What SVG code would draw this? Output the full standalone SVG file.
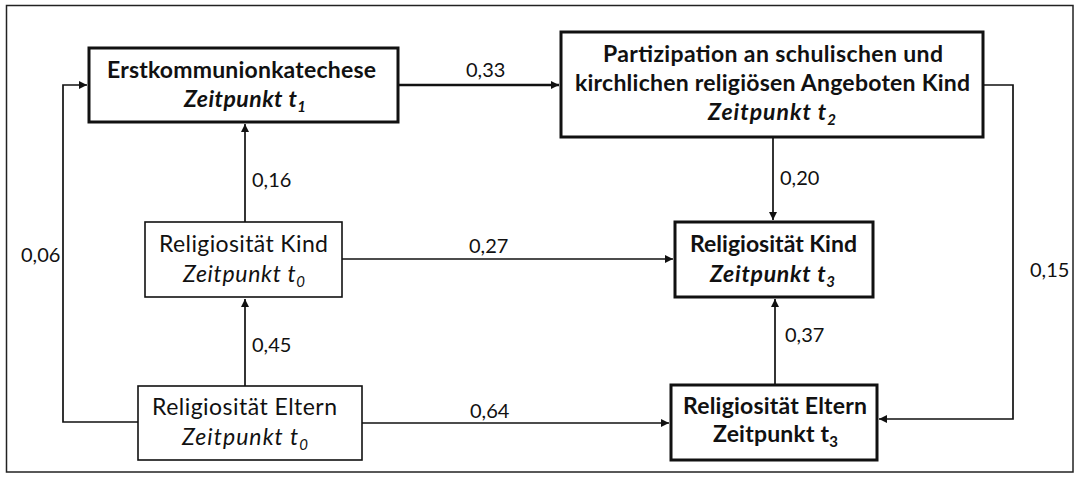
<svg xmlns="http://www.w3.org/2000/svg" width="1080" height="482" viewBox="0 0 1080 482">
<style>
  text { font-family: Lato, "Open Sans", "Liberation Sans", sans-serif; fill: #111; }
  .t { font-size: 23px; text-anchor: middle; }
  .b { font-weight: bold; }
  .i { font-style: italic; }
  .lbl { font-size: 20px; }
  .sub { font-size: 15px; }
  .thick { fill: #fff; stroke: #111; stroke-width: 3; }
  .thin { fill: #fff; stroke: #111; stroke-width: 1.6; }
  .c { fill: none; stroke: #111; stroke-width: 1.7; }
  .c2 { fill: none; stroke: #111; stroke-width: 2.4; }
</style>
<defs>
  <marker id="ah" viewBox="0 0 10 10" refX="10" refY="5" markerWidth="8" markerHeight="8" markerUnits="userSpaceOnUse" orient="auto">
    <path d="M0,0 L10,5 L0,10 z" fill="#111"/>
  </marker>
</defs>
<rect x="0" y="0" width="1080" height="482" fill="#fff"/>
<rect x="6.5" y="5.5" width="1066.5" height="466.5" fill="none" stroke="#222" stroke-width="1.5"/>

<g id="connectors">
  <path class="c2" d="M398,85 H559" marker-end="url(#ah)"/>
  <path class="c" d="M983,85 H1013 V419 H879" marker-end="url(#ah)"/>
  <path class="c" d="M773,137 V220" marker-end="url(#ah)"/>
  <path class="c" d="M342,259 H673" marker-end="url(#ah)"/>
  <path class="c" d="M245,222 V124" marker-end="url(#ah)"/>
  <path class="c" d="M245,386 V299" marker-end="url(#ah)"/>
  <path class="c" d="M362,423 H669" marker-end="url(#ah)"/>
  <path class="c" d="M775,385 V299" marker-end="url(#ah)"/>
  <path class="c" d="M138,422 H63 V85 H87" marker-end="url(#ah)"/>
  <text class="lbl" x="466" y="77">0,33</text>
  <text class="lbl" x="1030" y="277">0,15</text>
  <text class="lbl" x="780" y="185">0,20</text>
  <text class="lbl" x="469" y="253">0,27</text>
  <text class="lbl" x="252" y="187">0,16</text>
  <text class="lbl" x="252" y="352">0,45</text>
  <text class="lbl" x="470" y="418">0,64</text>
  <text class="lbl" x="785" y="342">0,37</text>
  <text class="lbl" x="21" y="262">0,06</text>
</g>

<g id="n1">
  <rect class="thick" x="89" y="48" width="309" height="74"/>
  <text class="t b" x="241.5" y="78" textLength="269">Erstkommunionkatechese</text>
  <text class="t b i" x="245" y="107" textLength="122">Zeitpunkt t<tspan class="sub" dy="5">1</tspan></text>
</g>
<g id="n2">
  <rect class="thick" x="561" y="32" width="422" height="105"/>
  <text class="t b" x="773" y="62" textLength="340">Partizipation an schulischen und</text>
  <text class="t b" x="772.5" y="91" textLength="395">kirchlichen religiösen Angeboten Kind</text>
  <text class="t b i" x="772" y="120" textLength="128">Zeitpunkt t<tspan class="sub" dy="5">2</tspan></text>
</g>
<g id="n3">
  <rect class="thin" x="145" y="222" width="197" height="75"/>
  <text class="t" x="243.5" y="252" textLength="169">Religiosität Kind</text>
  <text class="t i" x="244" y="282" textLength="122">Zeitpunkt t<tspan class="sub" dy="5">0</tspan></text>
</g>
<g id="n4">
  <rect class="thick" x="675" y="222" width="198" height="75"/>
  <text class="t b" x="773.5" y="252" textLength="167">Religiosität Kind</text>
  <text class="t b i" x="772.5" y="282" textLength="125">Zeitpunkt t<tspan class="sub" dy="5">3</tspan></text>
</g>
<g id="n5">
  <rect class="thin" x="138" y="386" width="224" height="74"/>
  <text class="t" x="244.5" y="415" textLength="185">Religiosität Eltern</text>
  <text class="t i" x="245" y="445" textLength="126">Zeitpunkt t<tspan class="sub" dy="5">0</tspan></text>
</g>
<g id="n6">
  <rect class="thick" x="671" y="385" width="206" height="75"/>
  <text class="t b" x="775" y="414" textLength="184">Religiosität Eltern</text>
  <text class="t b" x="775.5" y="442" textLength="125">Zeitpunkt t<tspan class="sub" dy="5">3</tspan></text>
</g>
</svg>
